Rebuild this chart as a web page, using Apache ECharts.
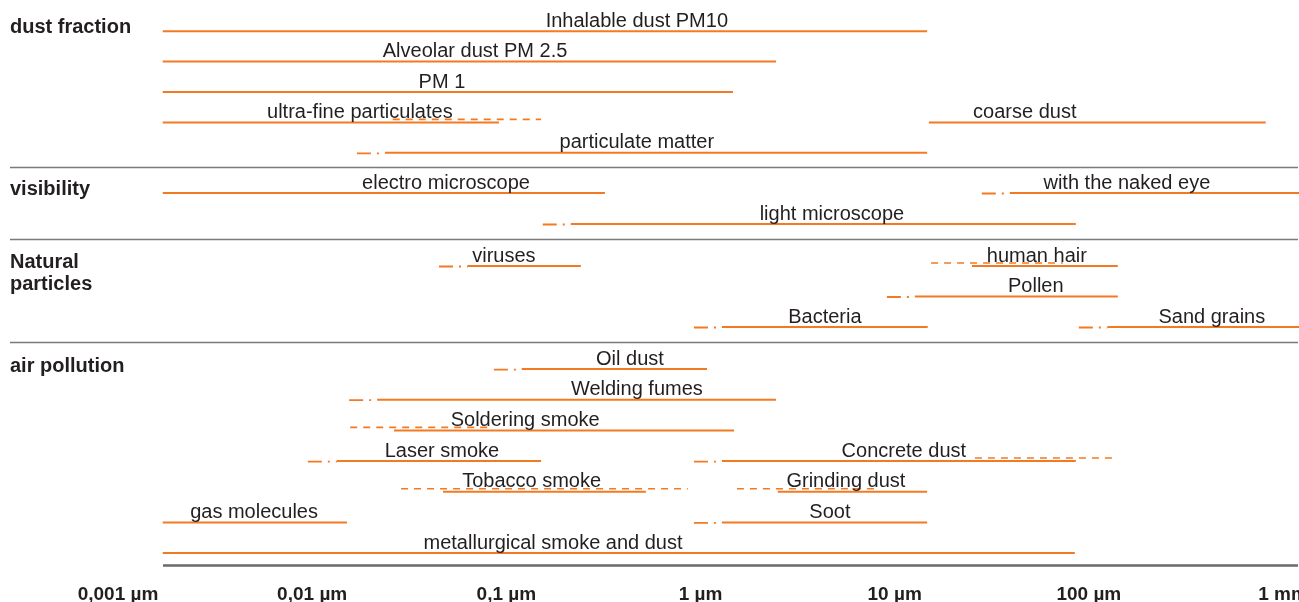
<!DOCTYPE html>
<html>
<head>
<meta charset="utf-8">
<title>Particle sizes</title>
<script src="https://cdn.jsdelivr.net/npm/echarts@6/dist/echarts.min.js"></script>
<style>
  html, body { margin: 0; padding: 0; background: #ffffff; }
  #chart { width: 1299px; height: 602px; }
</style>
</head>
<body>
<div id="chart"></div>
<script>
// Particle size ranges in micrometres (log scale).
// Columns: name, row, dashDotFrom, solidFrom, solidTo, dashFrom, dashTo, labelAt
const dustFraction = [
  ['Inhalable dust PM10',     0, null,  0.0017, 14.7,  null,  null,  0.47],
  ['Alveolar dust PM 2.5',    1, null,  0.0017, 2.45,  null,  null,  0.069],
  ['PM 1',                    2, null,  0.0017, 1.47,  null,  null,  0.0466],
  ['ultra-fine particulates', 3, null,  0.0017, 0.0916, 0.026, 0.151, 0.0176],
  ['coarse dust',             3, null,  15,     815,   null,  null,  46.8],
  ['particulate matter',      4, 0.017, 0.0237, 14.7,  null,  null,  0.47]
];

const visibility = [
  ['electro microscope', 0, null,  0.0017, 0.322, null, null, 0.0489],
  ['with the naked eye', 0, 28.1,  39.2,   1300,  null, null, 157],
  ['light microscope',   1, 0.154, 0.215,  85.7,  null, null, 4.75]
];

const naturalParticles = [
  ['viruses',     0, 0.045, 0.0634, 0.242, null, null, 0.0972],
  ['human hair',  0, null,  25,     141,   15.4, 73.5, 54],
  ['Pollen',      1, 9.12,  12.7,   141,   null, null, 53.3],
  ['Bacteria',    2, 0.925, 1.29,   14.8,  null, null, 4.37],
  ['Sand grains', 2, 88.8,  125,    1300,  null, null, 430]
];

const airPollution = [
  ['Oil dust',                     0, 0.0863, 0.12,   1.08,  null,   null,   0.433],
  ['Welding fumes',                1, 0.0155, 0.0216, 2.45,  null,   null,   0.47],
  ['Soldering smoke',              2, null,   0.0264, 1.49,  0.0157, 0.0823, 0.125],
  ['Laser smoke',                  3, 0.0095, 0.0134, 0.151, null,   null,   0.0466],
  ['Concrete dust',                3, 0.925,  1.29,   85.7,  25.9,   141,    11.15],
  ['Tobacco smoke',                4, null,   0.0472, 0.523, 0.0287, 0.861,  0.135],
  ['Grinding dust',                4, null,   2.5,    14.7,  1.54,   8.39,   5.61],
  ['gas molecules',                5, null,   0.0017, 0.0151, null,  null,   0.00502],
  ['Soot',                         5, 0.925,  1.29,   14.7,  null,   null,   4.64],
  ['metallurgical smoke and dust', 6, null,   0.0017, 84.7,  null,   null,   0.174]
];

const groupTitles = ['dust fraction', 'visibility', 'Natural\nparticles', 'air pollution'];
const groupRows = [5, 2, 3, 7];

const tickValues = [0.001, 0.01, 0.1, 1, 10, 100, 1000];
const tickLabels = ['0,001 µm', '0,01 µm', '0,1 µm', '1 µm', '10 µm', '100 µm', '1 mm'];

// ---- styling / layout ----
const ORANGE = '#f47a22';
const TEXT = '#231f20';
const RULE = '#7a7a7a';
const FONT = "'Liberation Sans', Arial, Helvetica, sans-serif";

const groups = [dustFraction, visibility, naturalParticles, airPollution];
const gridBoxes = [
  { top: 16,    height: 152 },
  { top: 177.5, height: 62 },
  { top: 250.75, height: 91.5 },
  { top: 353.7, height: 214.7 }
];
const LEFT = 118, RIGHT = 16;

const grids = gridBoxes.map(b => ({ left: LEFT, right: RIGHT, top: b.top, height: b.height }));
const xAxes = gridBoxes.map((b, i) => ({
  type: 'log', logBase: 10, min: 0.001, max: 1000, gridIndex: i,
  axisLine: { show: false }, axisTick: { show: false },
  axisLabel: { show: false }, splitLine: { show: false }
}));
const yAxes = gridBoxes.map((b, i) => ({
  type: 'value', min: -0.5, max: groupRows[i] - 0.5, inverse: true, gridIndex: i,
  axisLine: { show: false }, axisTick: { show: false },
  axisLabel: { show: false }, splitLine: { show: false }
}));

function rangeRenderer(rows) {
  return function (params, api) {
    const r = rows[params.dataIndex];
    const [name, row, ddFrom, sFrom, sTo, dFrom, dTo, labelAt] = r;
    const y = api.coord([1, row])[1];
    const px = v => api.coord([v, row])[0];
    const children = [];
    if (dFrom != null) {
      children.push({
        type: 'line',
        shape: { x1: px(dFrom), y1: y - 3, x2: px(dTo), y2: y - 3 },
        style: { stroke: ORANGE, lineWidth: 1.6, lineDash: [7, 6] }
      });
    }
    if (ddFrom != null) {
      children.push({
        type: 'line',
        shape: { x1: px(ddFrom), y1: y + 0.5, x2: px(sFrom), y2: y + 0.5 },
        style: { stroke: ORANGE, lineWidth: 1.8, lineDash: [14, 6, 2, 6] }
      });
    }
    children.push({
      type: 'line',
      shape: { x1: px(sFrom), y1: y, x2: px(sTo), y2: y },
      style: { stroke: ORANGE, lineWidth: 2 }
    });
    children.push({
      type: 'text',
      x: px(labelAt), y: y - 10,
      style: {
        text: name, fill: TEXT, font: '20px ' + FONT,
        textAlign: 'center', textVerticalAlign: 'middle',
        align: 'center', verticalAlign: 'middle'
      }
    });
    return { type: 'group', children: children };
  };
}

const series = groups.map((rows, i) => ({
  type: 'custom',
  xAxisIndex: i, yAxisIndex: i,
  clip: false,
  silent: true,
  data: rows.map(r => [r[3], r[1]]),
  renderItem: rangeRenderer(rows)
}));

// Tick labels along the bottom, placed by the log axis of the last grid
series.push({
  type: 'custom',
  xAxisIndex: 3, yAxisIndex: 3,
  clip: false,
  silent: true,
  data: tickValues.map(v => [v, 0]),
  renderItem: function (params, api) {
    const v = tickValues[params.dataIndex];
    const x = api.coord([v, 0])[0];
    const cs = params.coordSys;
    return {
      type: 'text',
      x: x, y: cs.y + cs.height + 26,
      style: {
        text: tickLabels[params.dataIndex], fill: TEXT, font: 'bold 19px ' + FONT,
        textAlign: 'center', textVerticalAlign: 'middle',
        align: 'center', verticalAlign: 'middle'
      }
    };
  }
});

// Group titles and horizontal rules
const titleY = [27, 189, 273, 366];
const ruleY = [167.5, 239.5, 342.5];
const graphic = [];
groupTitles.forEach((t, i) => {
  graphic.push({
    type: 'text', left: 10, top: titleY[i] - (t.indexOf('\n') >= 0 ? 22 : 11),
    style: { text: t, fill: TEXT, font: 'bold 20px ' + FONT, lineHeight: 22 }
  });
});
ruleY.forEach(y => {
  graphic.push({
    type: 'line', shape: { x1: 10, y1: y, x2: 1298, y2: y },
    style: { stroke: RULE, lineWidth: 1.5 }
  });
});
graphic.push({
  type: 'line', shape: { x1: 163, y1: 565.5, x2: 1298, y2: 565.5 },
  style: { stroke: '#6a6a6a', lineWidth: 2.5 }
});

const chart = echarts.init(document.getElementById('chart'), null, { renderer: 'canvas' });
chart.setOption({
  animation: false,
  backgroundColor: '#ffffff',
  grid: grids,
  xAxis: xAxes,
  yAxis: yAxes,
  series: series,
  graphic: graphic
});
</script>
</body>
</html>
